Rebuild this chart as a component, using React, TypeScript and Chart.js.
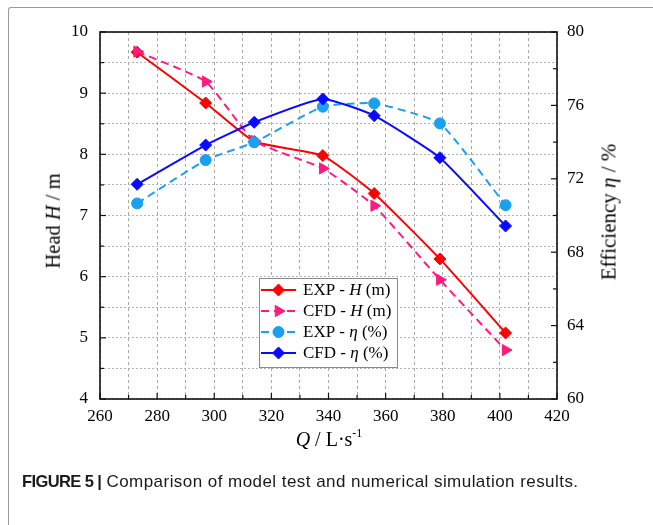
import React, { useEffect, useRef } from 'react';
import { Chart, registerables } from 'chart.js';
import { drawPoint } from 'chart.js/helpers';

Chart.register(...registerables);

// ---- data ----
const flowQ = [273, 297, 314, 338, 356, 379, 402];
const headExp = [9.67, 8.84, 8.21, 7.98, 7.36, 6.29, 5.08];
const headCfd = [9.68, 9.19, 8.22, 7.77, 7.16, 5.95, 4.8];
const effExp = [70.66, 73.02, 73.99, 75.93, 76.11, 75.02, 70.56];
const effCfd = [71.7, 73.84, 75.08, 76.35, 75.44, 73.15, 69.43];

const xRange = [260, 420];
const headRange = [4, 10];
const effRange = [60, 80];

const legendLabels = [
  [{ t: 'EXP - ', i: false }, { t: 'H', i: true }, { t: ' (m)', i: false }],
  [{ t: 'CFD - ', i: false }, { t: 'H', i: true }, { t: ' (m)', i: false }],
  [{ t: 'EXP - ', i: false }, { t: 'η', i: true }, { t: ' (%)', i: false }],
  [{ t: 'CFD - ', i: false }, { t: 'η', i: true }, { t: ' (%)', i: false }],
];

const SERIF = '"Liberation Serif", "Times New Roman", serif';

const framePlugin = {
  id: 'frameAndLegend',
  afterDraw(chart: any) {
    const { ctx, chartArea: a, scales } = chart;
    const x = scales.x, y = scales.y, y1 = scales.y1;
    ctx.save();
    ctx.strokeStyle = '#111';
    ctx.lineWidth = 1.2;
    ctx.setLineDash([]);
    const seg = (x0: number, y0: number, x2: number, y2: number) => {
      ctx.beginPath();
      ctx.moveTo(x0, y0);
      ctx.lineTo(x2, y2);
      ctx.stroke();
    };
    // inward ticks
    x.ticks.forEach((t: any) => {
      const px = x.getPixelForValue(t.value);
      const len = t.value % 20 === 0 ? 6 : 4;
      seg(px, a.bottom, px, a.bottom - len);
    });
    y.ticks.forEach((t: any) => {
      const py = y.getPixelForValue(t.value);
      const len = Number.isInteger(t.value) ? 6 : 4;
      seg(a.left, py, a.left + len, py);
    });
    y1.ticks.forEach((t: any) => {
      const py = y1.getPixelForValue(t.value);
      const len = t.value % 4 === 0 ? 6 : 4;
      seg(a.right, py, a.right - len, py);
    });
    // frame
    ctx.lineWidth = 1.6;
    ctx.strokeRect(a.left, a.top, a.right - a.left, a.bottom - a.top);

    // legend
    const lx = 259, ly = 278, lw = 138, lh = 89;
    ctx.fillStyle = '#fff';
    ctx.fillRect(lx, ly, lw, lh);
    ctx.strokeStyle = '#8a8a8a';
    ctx.lineWidth = 1;
    ctx.strokeRect(lx + 0.5, ly + 0.5, lw, lh);
    const rowY = [290, 311, 332, 353];
    chart.data.datasets.forEach((ds: any, i: number) => {
      const ry = rowY[i];
      ctx.strokeStyle = ds.borderColor;
      ctx.lineWidth = ds.borderWidth;
      ctx.setLineDash(ds.borderDash || []);
      seg(261, ry, 296, ry);
      ctx.setLineDash([]);
      ctx.fillStyle = ds.backgroundColor;
      ctx.strokeStyle = ds.borderColor;
      ctx.lineWidth = 1;
      drawPoint(ctx, {
        pointStyle: ds.pointStyle,
        radius: ds.pointRadius,
        rotation: ds.pointRotation || 0,
        borderWidth: 1,
      }, 278.5, ry);
      let tx = 303;
      ctx.fillStyle = '#000';
      ctx.textBaseline = 'middle';
      ctx.textAlign = 'left';
      legendLabels[i].forEach((p) => {
        ctx.font = (p.i ? 'italic ' : '') + '17px ' + SERIF;
        ctx.fillText(p.t, tx, ry + 1);
        tx += ctx.measureText(p.t).width;
      });
    });
    ctx.restore();
  },
};

export default function App() {
  const ref = useRef<HTMLCanvasElement | null>(null);

  useEffect(() => {
    if (!ref.current) return;
    const mk = (q: number[], v: number[]) => q.map((qq, i) => ({ x: qq, y: v[i] }));
    const chart = new Chart(ref.current, {
      type: 'line',
      data: {
        datasets: [
          {
            label: 'EXP - H (m)',
            data: mk(flowQ, headExp),
            yAxisID: 'y',
            borderColor: '#ff0000',
            backgroundColor: '#ff0000',
            borderWidth: 2,
            pointStyle: 'rectRot',
            pointRadius: 6,
            pointBorderWidth: 1,
            tension: 0.15,
            order: 4,
          },
          {
            label: 'CFD - H (m)',
            data: mk(flowQ, headCfd),
            yAxisID: 'y',
            borderColor: '#ff1a80',
            backgroundColor: '#ff1a80',
            borderWidth: 2,
            borderDash: [8, 5],
            pointStyle: 'triangle',
            pointRotation: 90,
            pointRadius: 6.5,
            pointBorderWidth: 1,
            tension: 0.15,
            order: 3,
          },
          {
            label: 'EXP - η (%)',
            data: mk(flowQ, effExp),
            yAxisID: 'y1',
            borderColor: '#1aa0ee',
            backgroundColor: '#1aa0ee',
            borderWidth: 2,
            borderDash: [8, 5],
            pointStyle: 'circle',
            pointRadius: 5.5,
            pointBorderWidth: 1,
            tension: 0.15,
            order: 2,
          },
          {
            label: 'CFD - η (%)',
            data: mk(flowQ, effCfd),
            yAxisID: 'y1',
            borderColor: '#0a0aff',
            backgroundColor: '#0a0aff',
            borderWidth: 2,
            pointStyle: 'rectRot',
            pointRadius: 6,
            pointBorderWidth: 1,
            tension: 0.15,
            order: 1,
          },
        ] as any,
      },
      options: {
        animation: false,
        responsive: false,
        devicePixelRatio: 1,
        layout: { padding: { top: 32, left: 0, right: 0, bottom: 0 } },
        plugins: { legend: { display: false }, tooltip: { enabled: false } },
        scales: {
          x: {
            type: 'linear',
            min: xRange[0],
            max: xRange[1],
            afterFit: (s: any) => { s.height = 126; },
            ticks: {
              stepSize: 10,
              autoSkip: false,
              maxRotation: 0,
              padding: 7,
              color: '#000',
              font: { family: SERIF, size: 17 },
              callback: (v: any) => (v % 20 === 0 ? String(v) : ''),
            },
            grid: { color: '#a8a8a8', lineWidth: 1, drawTicks: false },
            border: { display: false, dash: [3, 3] },
          },
          y: {
            type: 'linear',
            position: 'left',
            min: headRange[0],
            max: headRange[1],
            afterFit: (s: any) => { s.width = 100; },
            ticks: {
              stepSize: 0.5,
              autoSkip: false,
              padding: 12,
              color: '#000',
              font: { family: SERIF, size: 17 },
              callback: (v: any) => (Number.isInteger(v) ? String(v) : ''),
            },
            grid: { color: '#b4b4b4', lineWidth: 1, drawTicks: false },
            border: { display: false, dash: [2, 2] },
          },
          y1: {
            type: 'linear',
            position: 'right',
            min: effRange[0],
            max: effRange[1],
            afterFit: (s: any) => { s.width = 96; },
            ticks: {
              stepSize: 2,
              autoSkip: false,
              padding: 10,
              color: '#000',
              font: { family: SERIF, size: 17 },
              callback: (v: any) => (v % 4 === 0 ? String(v) : ''),
            },
            grid: { drawOnChartArea: false, drawTicks: false },
            border: { display: false },
          },
        },
      } as any,
      plugins: [framePlugin],
    });
    return () => chart.destroy();
  }, []);

  const serif = { fontFamily: SERIF, color: '#000', whiteSpace: 'nowrap' as const, lineHeight: 1 };

  return (
    <div style={{ position: 'absolute', left: 0, top: 0, width: 653, height: 525, background: '#fff', overflow: 'hidden' }}>
      <div style={{ position: 'absolute', left: 8, top: 7, width: 700, height: 600, borderTop: '1.5px solid #9a9a9a', borderLeft: '1.5px solid #9a9a9a', borderRadius: 3 }} />
      <canvas ref={ref} width={653} height={525} style={{ position: 'absolute', left: 0, top: 0, display: 'block' }} />
      <div style={{ ...serif, position: 'absolute', left: 53, top: 221, fontSize: 20.5, transform: 'translate(-50%, -50%) rotate(-90deg)' }}>
        Head <i>H</i> / m
      </div>
      <div style={{ ...serif, position: 'absolute', left: 609, top: 212, fontSize: 21, transform: 'translate(-50%, -50%) rotate(-90deg)' }}>
        Efficiency <i>η</i> / %
      </div>
      <div style={{ ...serif, position: 'absolute', left: 329, top: 439, fontSize: 20, transform: 'translate(-50%, -50%)' }}>
        <i>Q</i> / L·s<sup style={{ fontSize: 12, verticalAlign: 'top', position: 'relative', top: -2 }}>-1</sup>
      </div>
      <div style={{ position: 'absolute', left: 22, top: 472, fontFamily: '"Liberation Sans", Arial, sans-serif', color: '#1a1a1a', whiteSpace: 'nowrap', lineHeight: 1.2 }}>
        <b style={{ fontSize: 16.5, letterSpacing: -0.6 }}>FIGURE 5 |</b>
        <span style={{ fontSize: 17, letterSpacing: 0.45 }}> Comparison of model test and numerical simulation results.</span>
      </div>
    </div>
  );
}
